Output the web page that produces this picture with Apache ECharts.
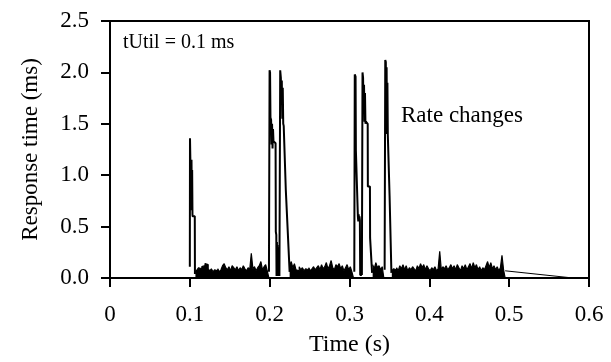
<!DOCTYPE html>
<html>
<head>
<meta charset="utf-8">
<script src="https://cdn.jsdelivr.net/npm/echarts@6/dist/echarts.min.js"></script>
<style>
html,body{margin:0;padding:0;background:#fff;}
#c{width:611px;height:362px;}
</style>
</head>
<body>
<div id="c"></div>
<script>
// ---- data (time in s, response time in ms) ----
var xTicks = [0, 0.1, 0.2, 0.3, 0.4, 0.5, 0.6];
var yTicks = [0, 0.5, 1.0, 1.5, 2.0, 2.5];

// transient spikes: [time, value]
var spike1 = [[0.1000,0.11],[0.1002,1.36],[0.1006,1.18],[0.1013,1.19],[0.1017,0.70],[0.1021,1.15],[0.1025,0.66],[0.1029,1.05],[0.1033,0.62],[0.1035,0.60],[0.1062,0.60],[0.1064,0.04]];
var spikeA = [[0.1991,0.06],[0.1999,2.02],[0.2005,2.00],[0.2010,1.56],[0.2018,1.54],[0.2024,1.30],[0.2030,1.50],[0.2036,1.26],[0.2042,1.45],[0.2048,1.33],[0.2074,1.31],[0.2077,0.45],[0.2083,0.42],[0.2086,0.02],[0.2091,0.35],[0.2096,0.02],[0.2101,0.32],[0.2106,0.02],[0.2111,0.30],[0.2116,0.02],[0.2122,0.02]];
var spikeB = [[0.2122,0.02],[0.2132,2.02],[0.2140,1.95],[0.2146,1.70],[0.2152,1.92],[0.2158,1.55],[0.2164,1.85],[0.2170,1.50],[0.2176,1.48],[0.2200,1.48],[0.2202,0.86],[0.2227,0.86],[0.2229,0.41],[0.2248,0.41],[0.2250,0.06]];
var spikeC1 = [[0.3060,0.06],[0.3066,1.98],[0.3076,1.96],[0.3080,1.24],[0.3102,1.24],[0.3105,0.60],[0.3110,0.55],[0.3115,0.62],[0.3120,0.55],[0.3125,0.60],[0.3130,0.56],[0.3134,0.03],[0.3155,0.03]];
var spikeC2 = [[0.3155,0.03],[0.3163,2.00],[0.3170,1.95],[0.3176,1.60],[0.3182,1.88],[0.3188,1.52],[0.3194,1.80],[0.3200,1.50],[0.3206,1.52],[0.3228,1.50],[0.3230,0.89],[0.3256,0.89],[0.3258,0.39],[0.3281,0.39],[0.3283,0.05]];
var spikeC3 = [[0.3440,0.08],[0.3448,2.12],[0.3455,2.10],[0.3460,1.45],[0.3465,2.05],[0.3470,1.40],[0.3475,1.90],[0.3480,1.39],[0.3500,1.39],[0.3502,0.80],[0.3523,0.80],[0.3525,0.05]];
var tail = [[0.4950,0.07],[0.5800,0.00]];

// steady-state noise, sampled every 2 ms from its start time
var noiseStep = 0.002;
var noise1Start = 0.107;
var noise1 = [.06,.08,.10,.09,.11,.12,.14,.13,.09,.07,.09,.06,.08,.07,.09,.06,.08,.12,.14,.10,.08,.11,.07,.12,.10,.08,.11,.07,.10,.08,.12,.09,.07,.10,.08,.24,.09,.11,.07,.10,.12,.16,.08,.11,.13,.07];
var noise2Start = 0.225;
var noise2 = [.12,.16,.10,.14,.08,.07,.11,.08,.10,.07,.09,.08,.10,.07,.09,.11,.08,.10,.12,.08,.13,.09,.11,.15,.09,.12,.17,.10,.08,.13,.11,.14,.09,.12,.07,.10,.13,.08,.11,.06];
var noise3Start = 0.329;
var noise3 = [.13,.09,.15,.10,.12,.08,.11];
var noise4Start = 0.353;
var noise4 = [.07,.09,.08,.10,.07,.12,.09,.13,.08,.12,.07,.10,.08,.11,.09,.07,.12,.09,.14,.10,.13,.08,.12,.09,.07,.10,.08,.11,.07,.09,.26,.08,.11,.09,.12,.08,.10,.13,.09,.12,.08,.13,.10,.07,.12,.09,.13,.08,.11,.14,.09,.15,.10,.13,.08,.11,.07,.10,.08,.12,.16,.10,.15,.09,.12,.08,.11,.07,.10,.22,.08];

function noiseData(start, vals) {
  var d = [];
  for (var i = 0; i < vals.length; i++) d.push([start + i * noiseStep, vals[i]]);
  d.push([start + vals.length * noiseStep, 0]);
  return d;
}

var FONT = 'Liberation Serif';
var chart = echarts.init(document.getElementById('c'), null, {renderer: 'canvas'});

function lineSeries(data) {
  return {type: 'line', data: data, showSymbol: false, symbol: 'none', sampling: false,
    lineStyle: {color: '#000', width: 2}, z: 3, animation: false};
}
function noiseSeries(start, vals) {
  return {type: 'line', data: noiseData(start, vals), step: 'end', showSymbol: false, symbol: 'none',
    lineStyle: {color: '#000', width: 1.2}, areaStyle: {color: '#000', opacity: 1}, z: 2, animation: false};
}

chart.setOption({
  animation: false,
  backgroundColor: '#fff',
  grid: {left: 110, right: 22, top: 21, bottom: 81, show: true, borderColor: '#000', borderWidth: 2, backgroundColor: 'transparent'},
  xAxis: {
    type: 'value', min: 0, max: 0.6, interval: 0.1,
    name: 'Time (s)', nameLocation: 'middle', nameGap: 55,
    nameTextStyle: {fontFamily: FONT, fontSize: 24, color: '#000'},
    axisLine: {show: true, lineStyle: {color: '#000', width: 2}},
    axisTick: {show: true, inside: false, length: 9, lineStyle: {color: '#000', width: 2}},
    axisLabel: {margin: 25, fontFamily: FONT, fontSize: 23, color: '#000',
      formatter: function (v) { return v === 0 ? '0' : v.toFixed(1); }},
    splitLine: {show: false}
  },
  yAxis: {
    type: 'value', min: 0, max: 2.5, interval: 0.5,
    name: 'Response time (ms)', nameLocation: 'middle', nameGap: 68, nameRotate: 90,
    nameTextStyle: {fontFamily: FONT, fontSize: 23, color: '#000'},
    axisLine: {show: true, lineStyle: {color: '#000', width: 2}},
    axisTick: {show: true, inside: false, length: 9, lineStyle: {color: '#000', width: 2}},
    axisLabel: {margin: 21, fontFamily: FONT, fontSize: 23, color: '#000',
      formatter: function (v) { return v.toFixed(1); }},
    splitLine: {show: false}
  },
  series: [
    noiseSeries(noise1Start, noise1),
    noiseSeries(noise2Start, noise2),
    noiseSeries(noise3Start, noise3),
    noiseSeries(noise4Start, noise4),
    lineSeries(spike1), lineSeries(spikeA), lineSeries(spikeB),
    lineSeries(spikeC1), lineSeries(spikeC2), lineSeries(spikeC3),
    Object.assign(lineSeries(tail), {lineStyle: {color: '#000', width: 1}})
  ],
  graphic: [
    {type: 'text', left: 123, top: 33, style: {text: 'tUtil = 0.1 ms', font: '20px "Liberation Serif"', fill: '#000'}},
    {type: 'text', left: 401, top: 104, style: {text: 'Rate changes', font: '23px "Liberation Serif"', fill: '#000'}}
  ]
});
</script>
</body>
</html>
